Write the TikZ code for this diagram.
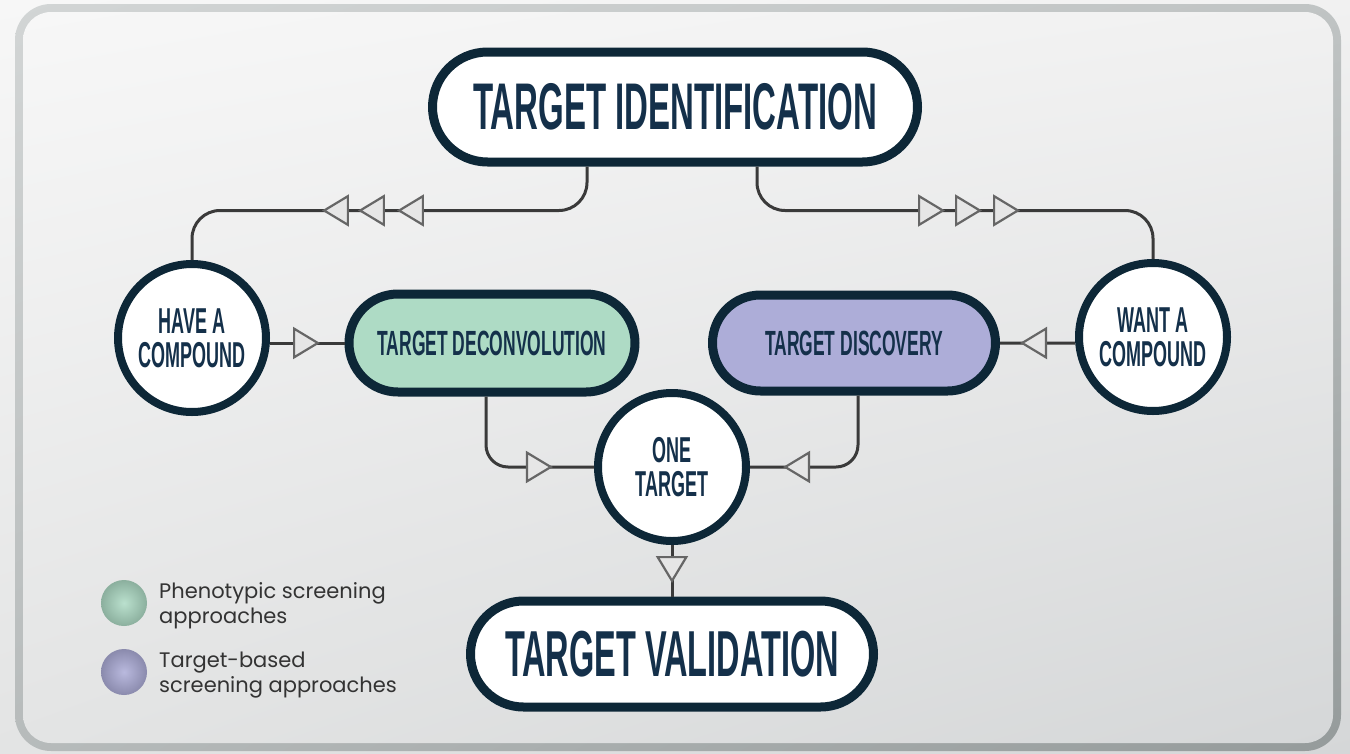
\documentclass[tikz,border=0pt]{standalone}
\usepackage{fontspec}
\usepackage{tikz}
\usetikzlibrary{shapes.misc,arrows.meta,decorations.markings,shadings}
\newfontfamily\headfont{Liberation Sans}[FakeStretch=0.5]
\newfontfamily\legendfont{Poppins}
\definecolor{navy}{HTML}{0D2737}
\definecolor{inknavy}{HTML}{14304A}
\definecolor{linkgray}{HTML}{3A3A3A}
\definecolor{tipgray}{HTML}{666666}
\definecolor{tipfill}{HTML}{E6E6E6}
\definecolor{mint}{HTML}{AEDBC5}
\definecolor{lavender}{HTML}{ADADD8}
\definecolor{legtext}{HTML}{333333}
\definecolor{bgTL}{HTML}{F7F7F7}
\definecolor{bgTR}{HTML}{F1F1F1}
\definecolor{bgBL}{HTML}{E3E4E4}
\definecolor{bgBR}{HTML}{D5D7D8}
\definecolor{rimTL}{HTML}{D2D5D5}
\definecolor{rimBR}{HTML}{959B9B}

\begin{document}
\begin{tikzpicture}[x=1pt,y=-1pt,line join=round,
  tri/.tip={Triangle[length=27pt,width=32pt,line width=2.2pt,color=tipgray,fill=tipfill]}]
  \tikzstyle{pill}=[rounded rectangle,draw=navy,line width=9pt,fill=white,inner sep=0pt,text=inknavy,font=\headfont\bfseries\fontsize{35}{34}\selectfont]
  \tikzstyle{ball}=[circle,draw=navy,line width=8pt,fill=white,minimum size=148pt,inner sep=0pt,align=center,text=inknavy,font=\headfont\bfseries\fontsize{36}{34}\selectfont]
  \tikzstyle{link}=[line width=3pt,draw=linkgray,postaction={decorate}]
  \tikzstyle{key}=[circle,minimum size=46pt,inner sep=0pt]
  \tikzstyle{keytext}=[anchor=west,align=left,inner sep=0pt,text=legtext,font=\legendfont\fontsize{21}{25}\selectfont]

  \useasboundingbox (0,0) rectangle (1350,753);
  \shade[upper left=bgTL,upper right=bgTR,lower left=bgBL,lower right=bgBR] (0,0) rectangle (1350,753);
  \shade[upper left=rimTL,upper right=rimTL!70!rimBR,lower left=rimTL!55!rimBR,lower right=rimBR,rounded corners=36pt] (15,4) rectangle (1341,751);
  \shade[upper left=bgTL,upper right=bgTR,lower left=bgBL,lower right=bgBR,rounded corners=28pt] (23,12) rectangle (1333,743);

  \node[pill,minimum width=485pt,minimum height=110pt,font=\headfont\bfseries\fontsize{66}{66}\selectfont] (T_ident) at (675,107) {TARGET IDENTIFICATION};
  \node[ball] (C_have) at (192,338) {HAVE A\\COMPOUND};
  \node[ball] (C_want) at (1153,337) {WANT A\\COMPOUND};
  \node[pill,fill=mint,minimum width=286pt,minimum height=98pt] (T_deconv) at (492,343) {TARGET DECONVOLUTION};
  \node[pill,fill=lavender,minimum width=283pt,minimum height=96pt] (T_disc) at (854,343) {TARGET DISCOVERY};
  \node[ball] (C_one) at (672,467) {ONE\\TARGET};
  \node[pill,minimum width=403pt,minimum height=106pt,font=\headfont\bfseries\fontsize{65}{65}\selectfont] (T_valid) at (672,654) {TARGET VALIDATION};

  \draw[link,rounded corners=28pt,decoration={markings,
    mark=at position 222pt with {\arrow{tri}},
    mark=at position 261pt with {\arrow{tri}},
    mark=at position 297pt with {\arrow{tri}}}]
    ([xshift=-88pt]T_ident.south) -- ++(0,44) -| (C_have);
  \draw[link,rounded corners=28pt,decoration={markings,
    mark=at position 220pt with {\arrow{tri}},
    mark=at position 257pt with {\arrow{tri}},
    mark=at position 295pt with {\arrow{tri}}}]
    ([xshift=82pt]T_ident.south) -- ++(0,44) -| (C_want);
  \draw[link,decoration={markings,mark=at position 50pt with {\arrow{tri}}}]
    (C_have.east |- T_deconv) -- (T_deconv);
  \draw[link,decoration={markings,mark=at position 55pt with {\arrow{tri}}}]
    (C_want.west |- T_disc) -- (T_disc);
  \draw[link,rounded corners=22pt,decoration={markings,mark=at position 128pt with {\arrow{tri}}}]
    ([xshift=-6pt]T_deconv.south) |- (C_one);
  \draw[link,rounded corners=22pt,decoration={markings,mark=at position 137pt with {\arrow{tri}}}]
    ([xshift=4pt]T_disc.south) |- (C_one);
  \draw[link,decoration={markings,mark=at position 38pt with {\arrow{tri}}}]
    (C_one) -- (T_valid);

  \node[key,inner color=mint!85!white,outer color=mint!80!black] (L_pheno) at (124,603) {};
  \node[key,inner color=lavender!85!white,outer color=lavender!80!black] (L_target) at (124,672) {};
  \node[keytext] (L_pheno_text) at (159,606) {Phenotypic screening\\approaches};
  \node[keytext] (L_target_text) at (159,675) {Target-based\\screening approaches};
\end{tikzpicture}
\end{document}
